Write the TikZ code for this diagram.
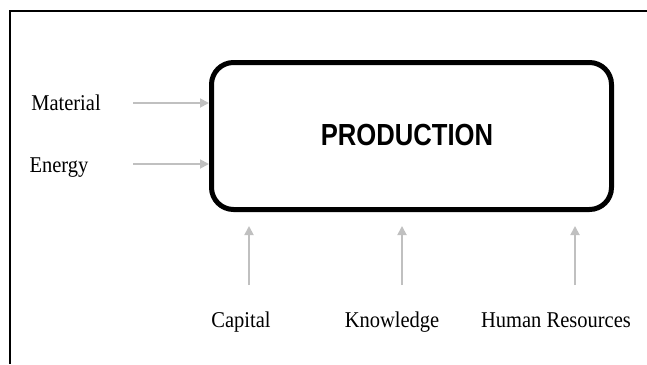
\documentclass[tikz,border=0pt]{standalone}
\usepackage{fontspec}
\setmainfont{Liberation Serif}
\newfontfamily\headfont{Liberation Sans}
\usetikzlibrary{arrows.meta}
\definecolor{arrowgray}{RGB}{192,192,192}
\tikzset{
  inarrow/.style={draw=arrowgray, line width=1.8pt, -{Triangle[length=9pt,width=9pt]}},
  lbl/.style={font=\fontsize{20.5}{24}\selectfont, inner sep=0pt, anchor=base, yscale=1.1},
  prodbox/.style={draw=black, line width=5pt, rounded corners=22pt, minimum width=400pt, minimum height=147pt, inner sep=0pt},
  frame/.style={draw=black, line width=2.2pt}
}
\begin{document}
\begin{tikzpicture}[x=1pt,y=-1pt]
\useasboundingbox (0,0) rectangle (647,364);
% outer frame (top and left edges only)
\coordinate (ftl) at (10,11);
\coordinate (ftr) at (647,11);
\coordinate (fbl) at (10,364);
\draw[frame] (ftr) -- (ftl) -- (fbl);
% main box
\node[prodbox] (prod) at (411.5,136) {};
\node[font=\headfont\bfseries\fontsize{30.5}{34}\selectfont, xscale=0.84, inner sep=0pt] (ptext) at (407,134.5) {PRODUCTION};
% left inputs
\node[lbl] (mat) at (66,110) {Material};
\node[lbl] (ene) at (59,172) {Energy};
\coordinate (ms) at (133,103);
\coordinate (es) at (133,164);
\draw[inarrow] (ms) -- (ms -| prod.west);
\draw[inarrow] (es) -- (es -| prod.west);
% bottom inputs
\node[lbl] (cap) at (241,327) {Capital};
\node[lbl] (kno) at (392,327) {Knowledge};
\node[lbl] (hum) at (556,327) {Human Resources};
\coordinate (cs) at (249,285);
\coordinate (ce) at (249,226);
\coordinate (ks) at (402,285);
\coordinate (ke) at (402,226);
\coordinate (hs) at (575,285);
\coordinate (he) at (575,226);
\draw[inarrow] (cs) -- (ce);
\draw[inarrow] (ks) -- (ke);
\draw[inarrow] (hs) -- (he);
\end{tikzpicture}
\end{document}
